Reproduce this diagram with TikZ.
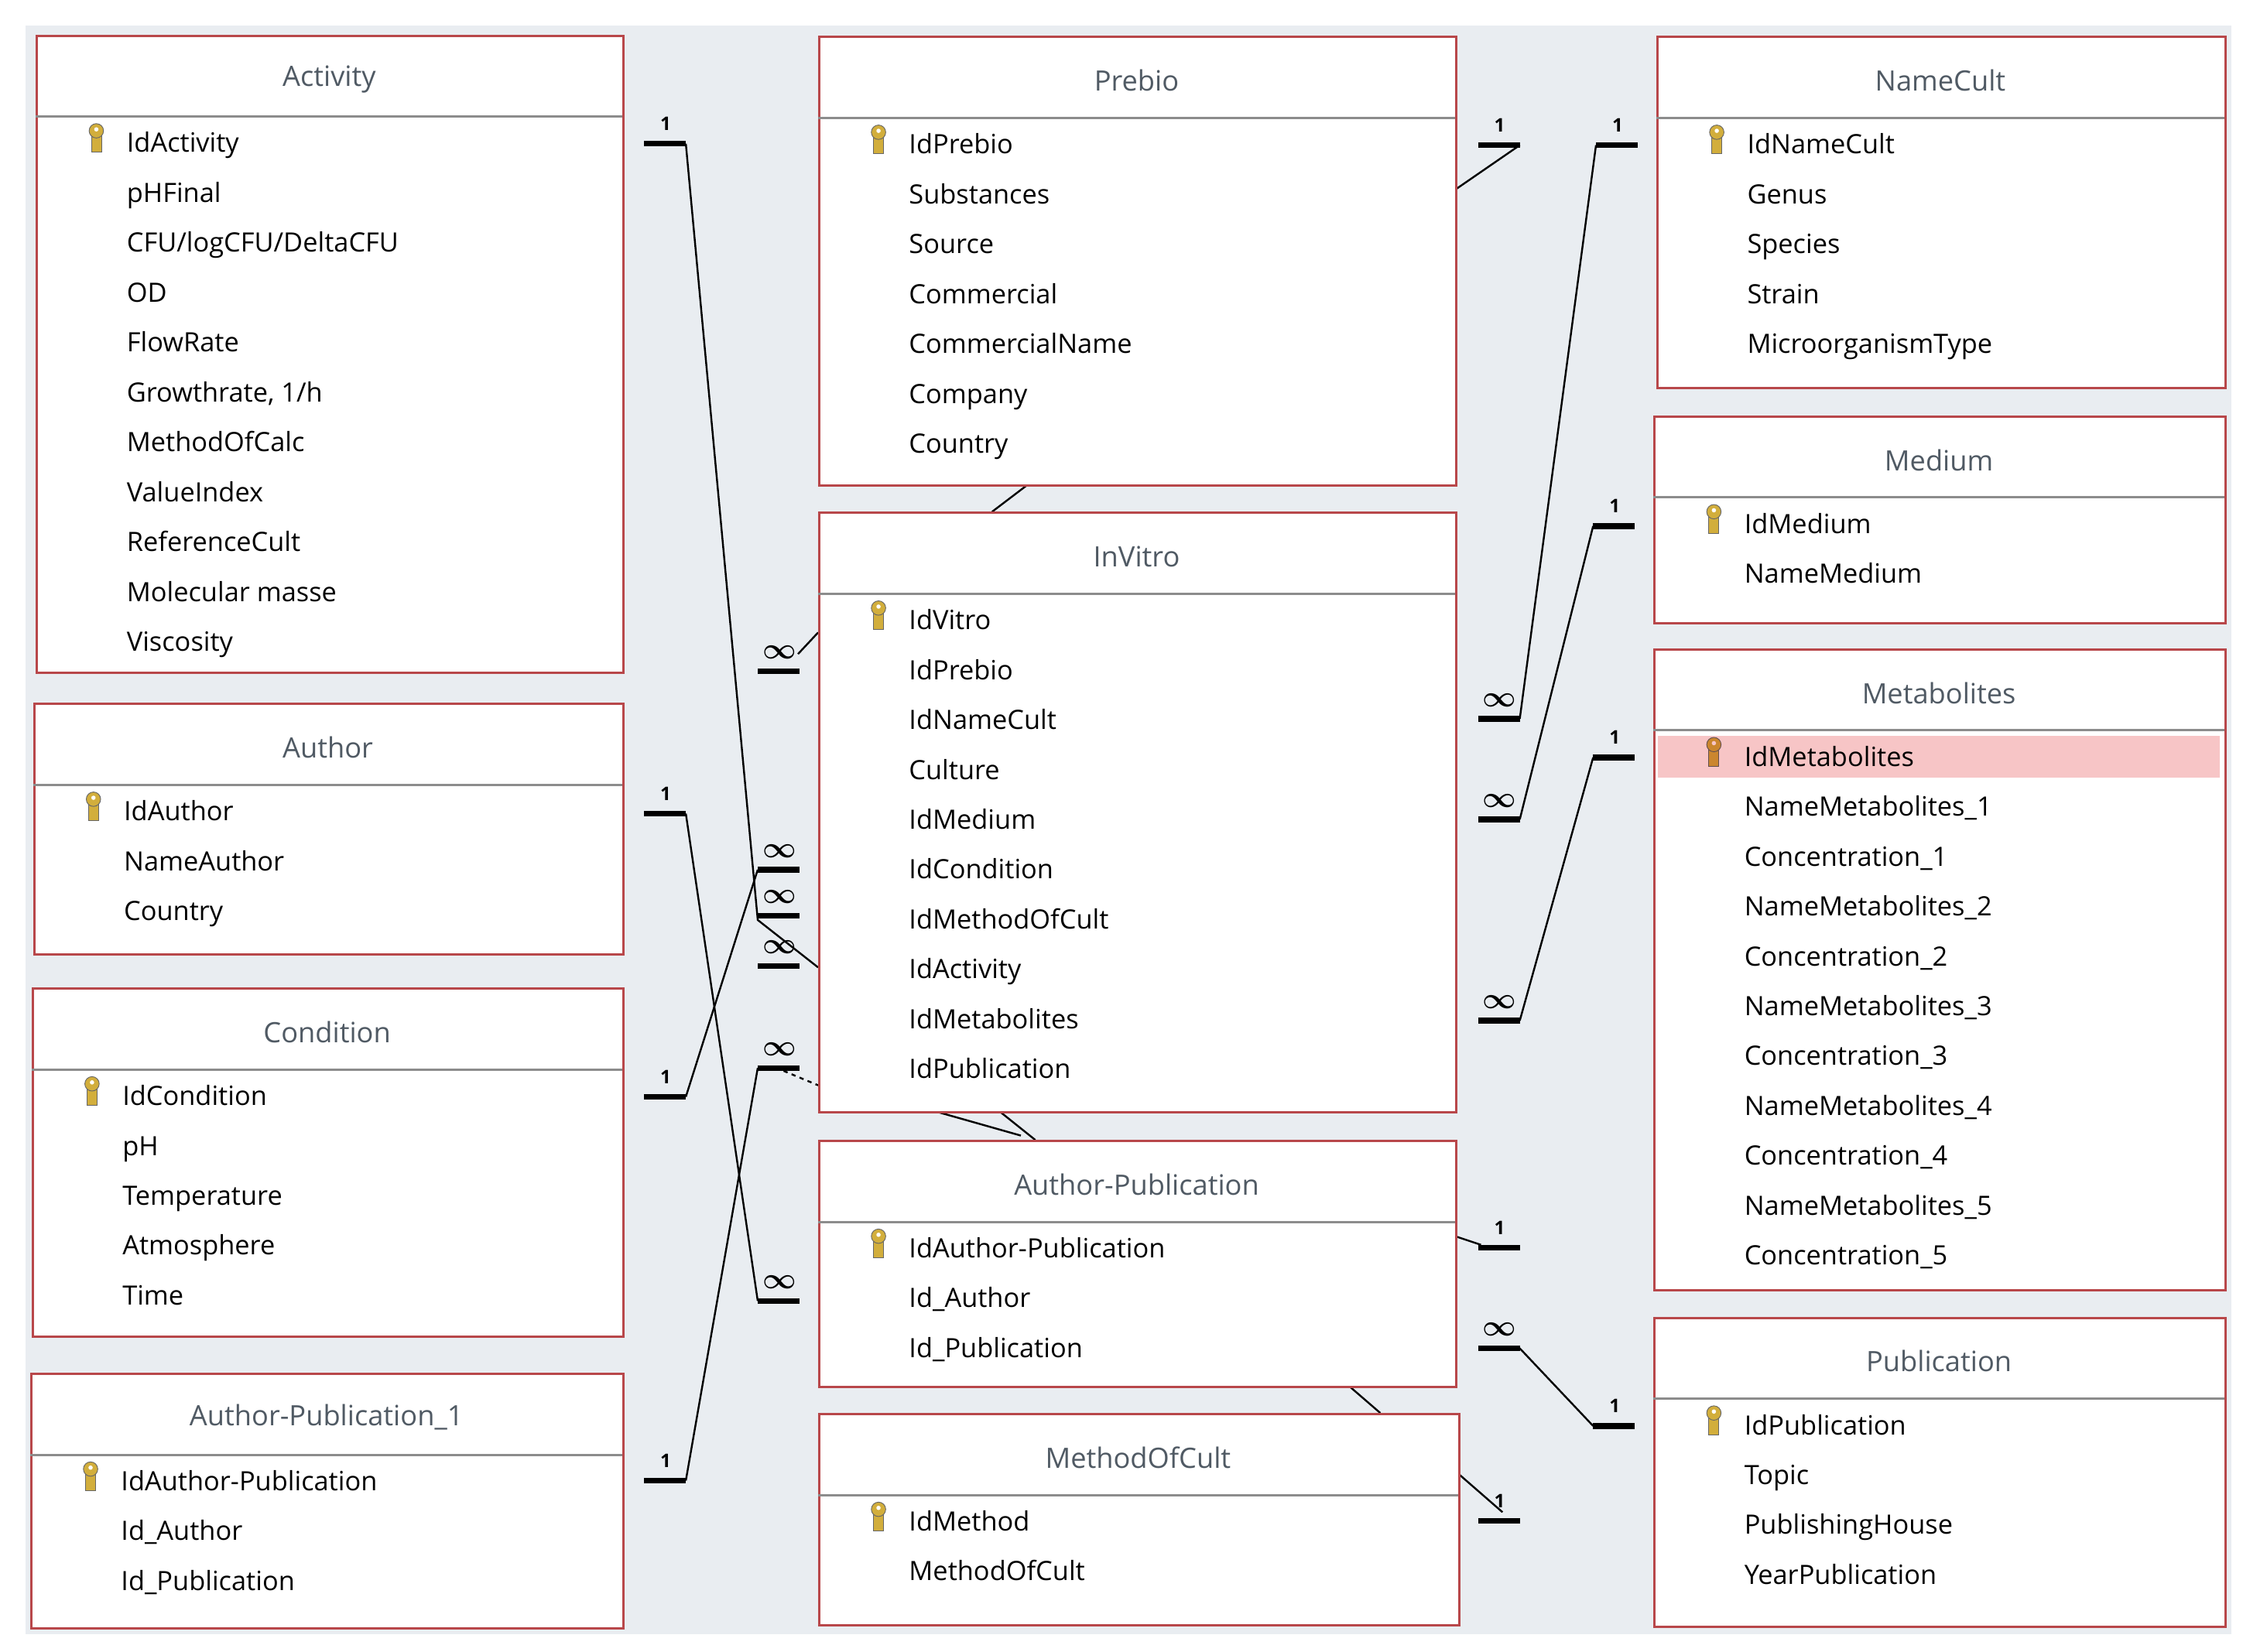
\documentclass[tikz,border=0pt]{standalone}
\usepackage{fontspec}
\usepackage{amsmath}
\setmainfont{Open Sans}
\definecolor{bg}{HTML}{E9EDF1}
\definecolor{tred}{HTML}{B8474A}
\definecolor{tgray}{HTML}{8C8C8C}
\definecolor{ttl}{HTML}{505A64}
\definecolor{keyc}{HTML}{D2AE3C}
\definecolor{pinkrow}{HTML}{F7C5C6}
\tikzset{
 tbox/.style={draw=tred, line width=1.6pt, fill=white, inner sep=0pt},
 row/.style={anchor=base west, inner sep=0pt, font=\fontsize{18.5}{20}\selectfont},
 ttlst/.style={inner sep=0pt, text=ttl, font=\fontsize{19.5}{21}\selectfont},
 bar/.style={line width=4pt},
 lnk/.style={line width=1.3pt},
 lab/.style={inner sep=0pt, font=\bfseries\fontsize{13}{14}\selectfont},
}
\newcommand\mytbl[7]{%
 \pgfmathsetmacro\tw{#4-#2}\pgfmathsetmacro\th{#5-#3}%
 \node[tbox, minimum width=\tw pt, minimum height=\th pt, anchor=north west] (#1) at (#2,#3) {};
 \draw[tgray, line width=1.6pt] (#2,#3+57) -- (#4,#3+57);
 \node[ttlst] (#1-t) at ({(#2+#4)/2},#3+31) {#6};
 \foreach \r [count=\i] in {#7} {
   \node[row] (#1-r\i) at (#2+63,{#3+82+(\i-1)*34.7}) {\r};
 }
 \mykey{#2+42}{#3+74}
}
\newcommand\mykey[2]{%
 \fill[keyc, draw=black!60, line width=0.5pt] (#1-3.5,#2-8) rectangle (#1+3.5,#2+8);
 \fill[keyc, draw=black!60, line width=0.5pt] (#1,#2-7) ellipse (5 and 5);
 \fill[white] (#1,#2-8) circle (1.5);
}
\newcommand\one[3]{\coordinate (#1) at (#2,#3); \draw[bar] (#2,#3) -- ++(29,0); \node[lab] at (#2+15,#3-14) {1};}
\newcommand\many[3]{\coordinate (#1) at (#2,#3); \draw[bar] (#2,#3) -- ++(29,0); \node[lab] at (#2+15,#3-13) {\scalebox{1.7}{$\boldsymbol{\infty}$}};}
\begin{document}
\begin{tikzpicture}[x=1pt,y=-1pt]
\useasboundingbox (0,0) rectangle (1560,1149);
\fill[white] (0,0) rectangle (1560,1149);
\fill[bg] (18,18) rectangle (1552,1137);

% connectors (under tables)
\one{a1}{448}{100} \draw[lnk] (477,100) -- (527,640) -- (569,673);
\many{m1}{527}{605} \many{m2}{527}{637} \many{m3}{527}{672}
\many{m0}{527}{467} \draw[lnk] (555,455) -- (569,440);
\one{a2}{448}{566} \many{m4}{527}{905} \draw[lnk] (477,566) -- (527,905);
\one{a3}{448}{763} \draw[lnk] (477,763) -- (527,605);
\one{a4}{448}{1030} \many{m5}{527}{743} \draw[lnk] (477,1030) -- (527,743);
\draw[lnk, dashed] (545,745) -- (569,755);
\one{b1}{1028}{101} \draw[lnk] (1012,132) -- (1057,101);
\one{b2}{1110}{101} \many{n1}{1028}{500} \draw[lnk] (1110,101) -- (1057,500);
\one{b3}{1108}{366} \many{n2}{1028}{570} \draw[lnk] (1108,366) -- (1057,570);
\one{b4}{1108}{527} \many{n3}{1028}{710} \draw[lnk] (1108,527) -- (1057,710);
\one{b5}{1028}{868} \draw[lnk] (1012,860) -- (1030,866);
\many{n4}{1028}{938} \one{b6}{1108}{992} \draw[lnk] (1057,938) -- (1108,992);
\one{b7}{1028}{1058} \draw[lnk] (1014,1025) -- (1045,1052);
\draw[lnk] (938,964) -- (960,983);
\draw[lnk] (650,773) -- (710,790);
\draw[lnk] (695,773) -- (720,793);
\draw[lnk] (715,337) -- (690,356);

% tables
\mytbl{act}{25}{24}{433}{467}{Activity}{IdActivity,pHFinal,CFU/logCFU/DeltaCFU,OD,FlowRate,{Growthrate, 1/h},MethodOfCalc,ValueIndex,ReferenceCult,Molecular masse,Viscosity}
\mytbl{aut}{23}{489}{433}{663}{Author}{IdAuthor,NameAuthor,Country}
\mytbl{con}{22}{687}{433}{929}{Condition}{IdCondition,pH,Temperature,Atmosphere,Time}
\mytbl{ap1}{21}{955}{433}{1132}{Author-Publication\_1}{IdAuthor-Publication,Id\_Author,Id\_Publication}
\mytbl{pre}{569}{25}{1012}{337}{Prebio}{IdPrebio,Substances,Source,Commercial,CommercialName,Company,Country}
\mytbl{inv}{569}{356}{1012}{773}{InVitro}{IdVitro,IdPrebio,IdNameCult,Culture,IdMedium,IdCondition,IdMethodOfCult,IdActivity,IdMetabolites,IdPublication}
\mytbl{ap}{569}{793}{1012}{964}{Author-Publication}{IdAuthor-Publication,Id\_Author,Id\_Publication}
\mytbl{moc}{569}{983}{1014}{1130}{MethodOfCult}{IdMethod,MethodOfCult}
\mytbl{nc}{1152}{25}{1547}{269}{NameCult}{IdNameCult,Genus,Species,Strain,MicroorganismType}
\mytbl{med}{1150}{289}{1547}{433}{Medium}{IdMedium,NameMedium}
\mytbl{met}{1150}{451}{1547}{897}{Metabolites}{IdMetabolites,NameMetabolites\_1,Concentration\_1,NameMetabolites\_2,Concentration\_2,NameMetabolites\_3,Concentration\_3,NameMetabolites\_4,Concentration\_4,NameMetabolites\_5,Concentration\_5}
\fill[pinkrow, blend mode=multiply] (1153,512) rectangle (1544,541);
\mytbl{pub}{1150}{916}{1547}{1131}{Publication}{IdPublication,Topic,PublishingHouse,YearPublication}
\end{tikzpicture}
\end{document}
